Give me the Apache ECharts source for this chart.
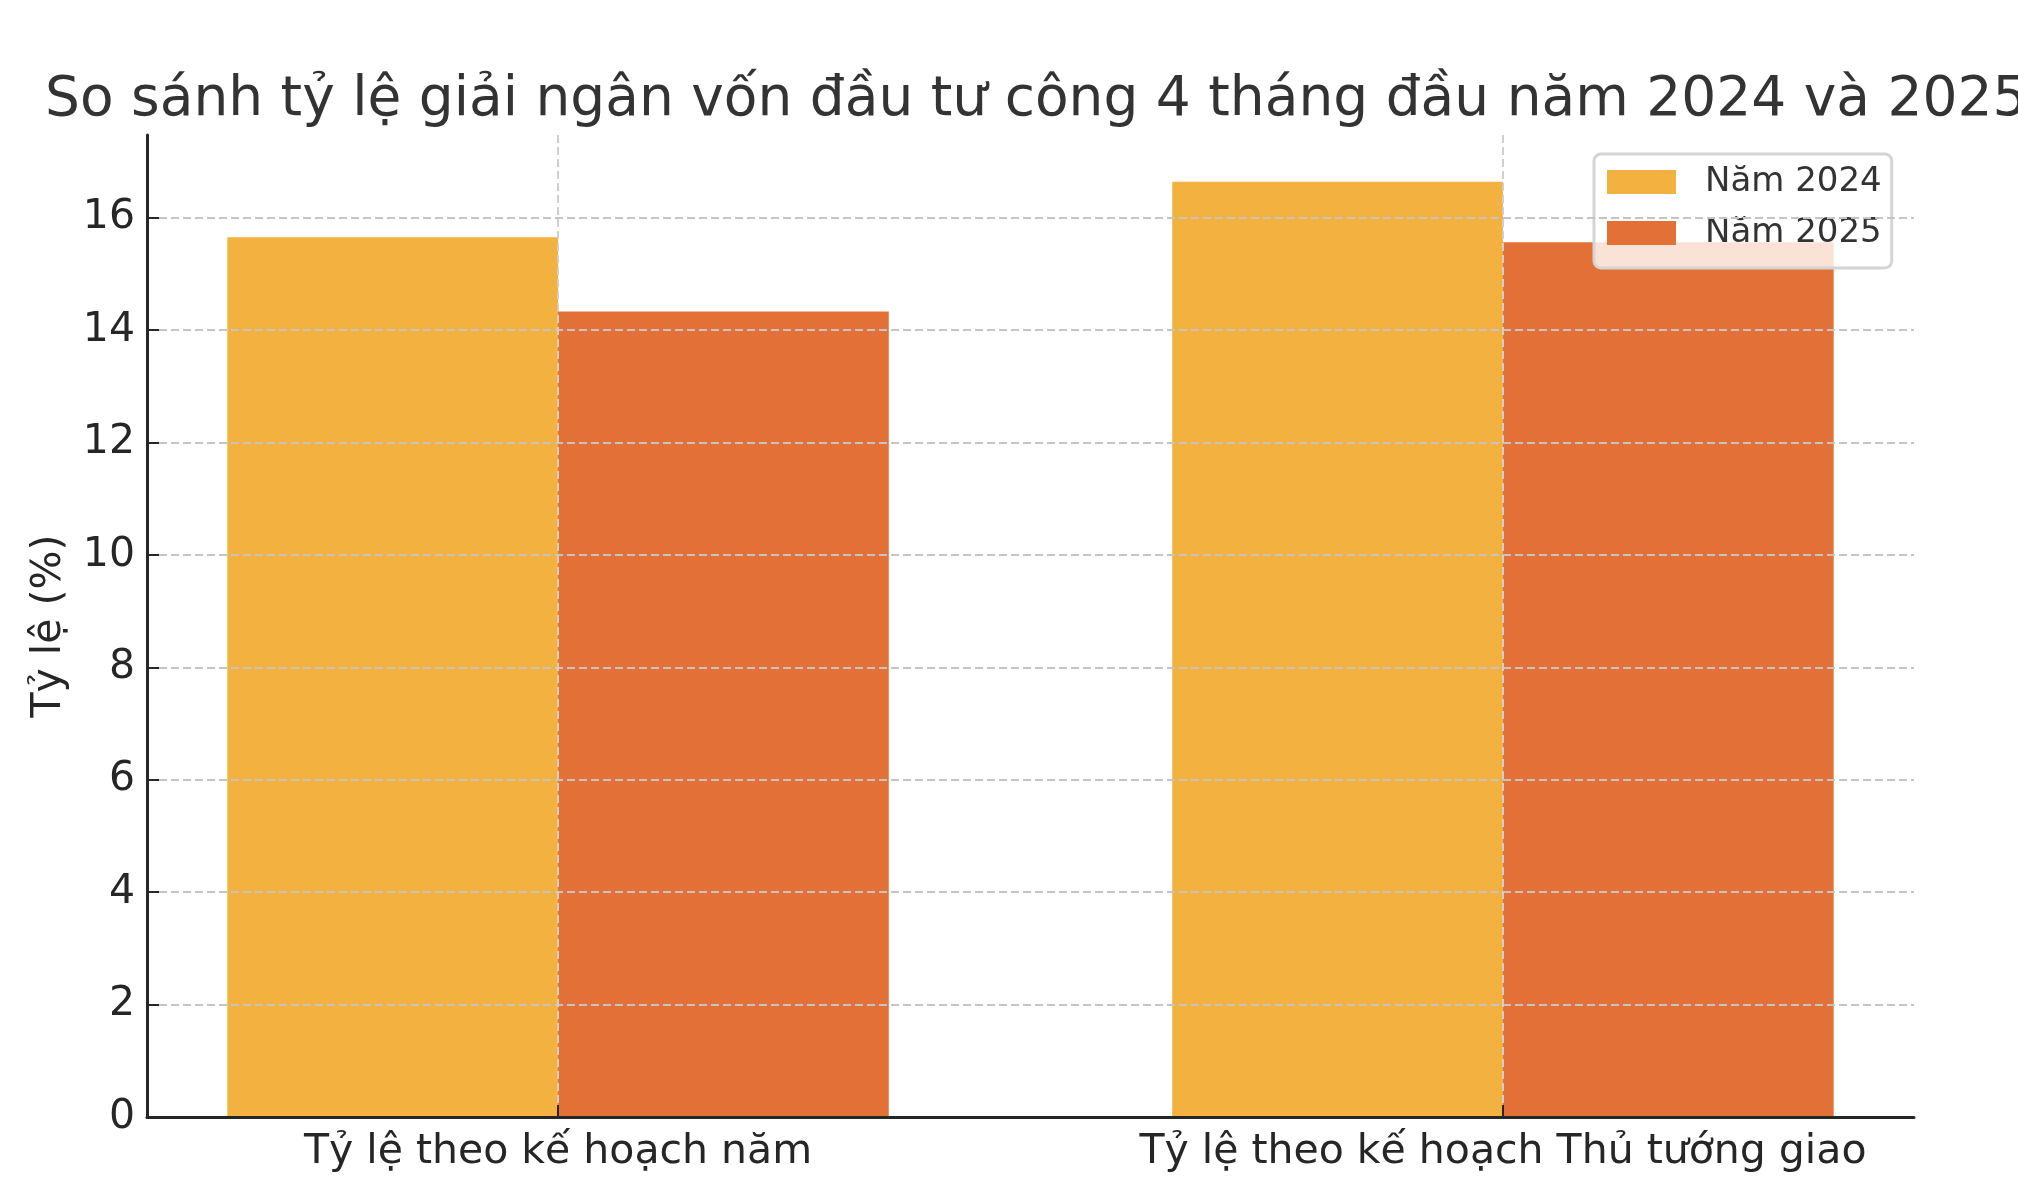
<!DOCTYPE html>
<html>
<head>
<meta charset="utf-8">
<script src="https://cdn.jsdelivr.net/npm/echarts@6/dist/echarts.min.js"></script>
<style>html,body{margin:0;padding:0;background:#fff}#c{width:2018px;height:1180px}</style>
</head>
<body>
<div id="c"></div>
<script>
const titleText = 'So sánh tỷ lệ giải ngân vốn đầu tư công 4 tháng đầu năm 2024 và 2025';
const categories = ['Tỷ lệ theo kế hoạch năm', 'Tỷ lệ theo kế hoạch Thủ tướng giao'];
const categoryPositions = [0, 1];
const seriesNames = ['Năm 2024', 'Năm 2025'];
const values2024 = [15.65, 16.64];
const values2025 = [14.33, 15.56];
const yTicks = [0, 2, 4, 6, 8, 10, 12, 14, 16];
const yLabel = 'Tỷ lệ (%)';

const font = 'DejaVu Sans';
const chart = echarts.init(document.getElementById('c'), null, {renderer: 'canvas'});
const option = {
  backgroundColor: '#fff',
  animation: false,
  title: {
    text: titleText,
    left: 40,
    top: 68,
    textStyle: {fontFamily: font, fontSize: 55, fontWeight: 'normal', color: '#333333'}
  },
  legend: {
    data: seriesNames,
    orient: 'vertical',
    left: 1594,
    top: 154,
    padding: [11, 10, 18, 13],
    itemWidth: 69,
    itemHeight: 24,
    itemGap: 17,
    icon: 'rect',
    backgroundColor: 'rgba(255,255,255,0.8)',
    borderColor: '#d4d4d4',
    borderWidth: 3,
    borderRadius: 7,
    textStyle: {fontFamily: font, fontSize: 34, color: '#333333', padding: [0, 0, 0, 24]}
  },
  grid: {left: 147, right: 104, top: 135, bottom: 63, containLabel: false},
  xAxis: {
    type: 'value',
    min: -0.435,
    max: 1.435,
    z: 5,
    axisLine: {show: true, onZero: false, lineStyle: {color: '#262626', width: 3}},
    axisTick: {show: true, inside: true, length: 12, customValues: categoryPositions, lineStyle: {color: '#262626', width: 2}},
    axisLabel: {
      customValues: categoryPositions,
      margin: 15,
      fontFamily: font, fontSize: 41, color: '#262626',
      formatter: function (v) { return categories[Math.round(v)]; }
    },
    splitLine: {show: true, lineStyle: {color: '#cfcfcf', width: 2, type: [8, 4]}}
  },
  yAxis: {
    type: 'value',
    min: 0,
    max: 17.47,
    z: 5,
    name: yLabel,
    nameLocation: 'middle',
    nameGap: 77,
    nameTextStyle: {fontFamily: font, fontSize: 41, color: '#262626'},
    axisLine: {show: true, onZero: false, lineStyle: {color: '#262626', width: 3}},
    axisTick: {show: true, inside: true, length: 12, customValues: yTicks, lineStyle: {color: '#262626', width: 2}},
    axisLabel: {customValues: yTicks, margin: 12, fontFamily: font, fontSize: 41, color: '#262626'},
    splitLine: {show: true, lineStyle: {color: '#c4c4c4', width: 2, type: [8, 4]}}
  },
  series: [
    {
      name: seriesNames[0], type: 'bar', barWidth: '35%', barGap: '0%',
      itemStyle: {color: '#F3B23F'},
      data: categoryPositions.map((x, i) => [x, values2024[i]])
    },
    {
      name: seriesNames[1], type: 'bar', barWidth: '35%', barGap: '0%',
      itemStyle: {color: '#E37036'},
      data: categoryPositions.map((x, i) => [x, values2025[i]])
    }
  ]
};
chart.setOption(option);
</script>
</body>
</html>
